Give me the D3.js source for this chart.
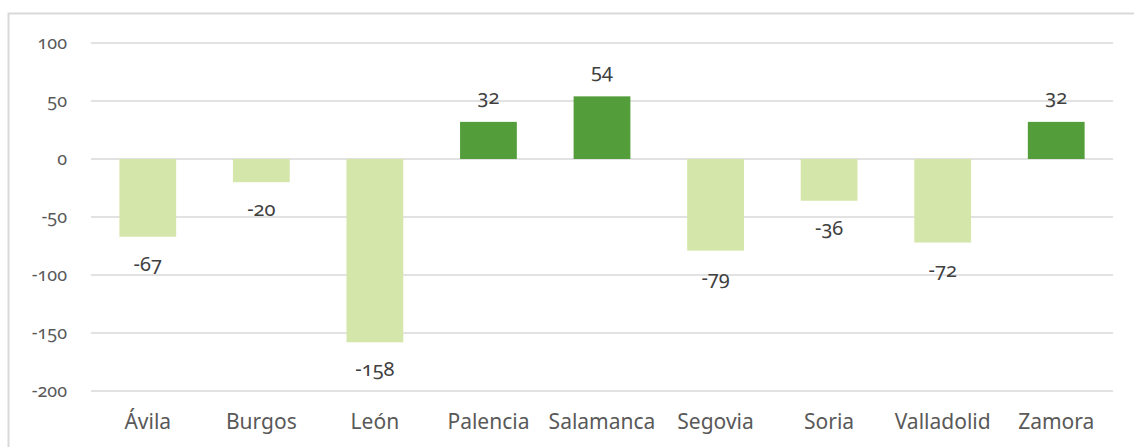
<!DOCTYPE html>
<html>
<head>
<meta charset="utf-8">
<script src="https://cdn.jsdelivr.net/npm/d3@7"></script>
<style>
  body { margin: 0; background: #fff; }
  svg text { font-family: "Noto Sans", "Open Sans", sans-serif; font-variant-numeric: oldstyle-nums; }
</style>
</head>
<body>
<div id="grafico"></div>
<script>
// datos
var provincias = ["Ávila", "Burgos", "León", "Palencia", "Salamanca", "Segovia", "Soria", "Valladolid", "Zamora"];
var valores = [-67, -20, -158, 32, 54, -79, -36, -72, 32];
var marcas = [100, 50, 0, -50, -100, -150, -200];

var ancho = 1134, alto = 447;
var svg = d3.select("#grafico").append("svg").attr("width", ancho).attr("height", alto);

// marco del grafico
svg.append("rect")
  .attr("x", 8.5).attr("y", 13.5)
  .attr("width", 1140).attr("height", 460)
  .attr("fill", "none").attr("stroke", "#d9d9d9").attr("stroke-width", 2);

var x = d3.scaleBand().domain(provincias).range([91, 1113]).paddingInner(0.5).paddingOuter(0.25);
var y = d3.scaleLinear().domain([-200, 100]).range([391, 43]);

// lineas de division
svg.append("g").selectAll("line").data(marcas).enter().append("line")
  .attr("x1", 91).attr("x2", 1113)
  .attr("y1", function(d) { return y(d); })
  .attr("y2", function(d) { return y(d); })
  .attr("stroke", "#d9d9d9").attr("stroke-width", 1.5);

// eje vertical (solo textos, con guion normal)
var ejeY = svg.append("g").attr("transform", "translate(67,0)")
  .call(d3.axisLeft(y).tickValues(marcas).tickSize(0).tickPadding(0)
    .tickFormat(function(d) { return String(d); }));
ejeY.select(".domain").remove();
ejeY.selectAll("text").attr("fill", "#595959").style("font-size", "18px").attr("dy", "0.3em");

// barras
svg.append("g").selectAll("rect").data(valores).enter().append("rect")
  .attr("x", function(d, i) { return x(provincias[i]); })
  .attr("width", x.bandwidth())
  .attr("y", function(d) { return d > 0 ? y(d) : y(0); })
  .attr("height", function(d) { return Math.abs(y(d) - y(0)); })
  .attr("fill", function(d) { return d > 0 ? "#539e3a" : "#d4e6aa"; });

// etiquetas de datos
svg.append("g").selectAll("text").data(valores).enter().append("text")
  .attr("x", function(d, i) { return x(provincias[i]) + x.bandwidth() / 2; })
  .attr("y", function(d) { return d > 0 ? y(d) - 18 : y(d) + 34; })
  .attr("text-anchor", "middle")
  .attr("fill", "#404040")
  .style("font-size", "20px")
  .text(function(d) { return d; });

// categorias
svg.append("g").selectAll("text").data(provincias).enter().append("text")
  .attr("x", function(d) { return x(d) + x.bandwidth() / 2; })
  .attr("y", 429)
  .attr("text-anchor", "middle")
  .attr("fill", "#595959")
  .style("font-size", "21px")
  .text(function(d) { return d; });
</script>
</body>
</html>
